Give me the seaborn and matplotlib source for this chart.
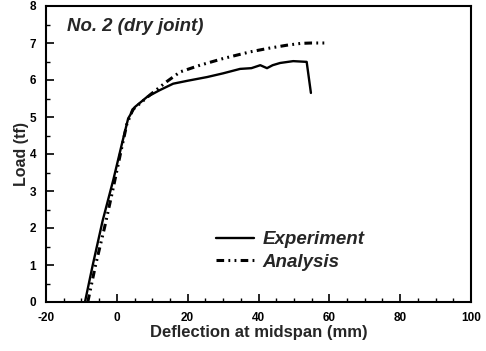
import matplotlib
matplotlib.use("Agg")
import matplotlib.pyplot as plt
import seaborn as sns
import pandas as pd
from matplotlib.ticker import MultipleLocator

sns.set_theme(style="white")
plt.rcParams['font.family'] = ['Liberation Sans', 'DejaVu Sans']
plt.rcParams['axes.unicode_minus'] = False

exp_x = [-9.0, -6.8, -4.0, -1.0, 1.5, 3.2, 5.1, 8.5, 12.0, 15.9, 20.0, 25.5, 30.0, 34.8, 38.0, 40.5, 42.4, 44.0, 46.1, 49.8, 53.6, 54.8]
exp_y = [0.0, 1.0, 2.2, 3.3, 4.3, 4.96, 5.27, 5.54, 5.72, 5.9, 5.98, 6.08, 6.18, 6.3, 6.32, 6.4, 6.32, 6.4, 6.46, 6.51, 6.49, 5.65]

ana_x = [-8.2, -6.0, -3.5, -1.2, 1.0, 2.8, 4.5, 9.4, 14.0, 17.9, 23.5, 30.0, 37.6, 43.0, 48.0, 52.0, 55.0, 59.1]
ana_y = [0.0, 1.0, 2.0, 3.0, 4.0, 4.8, 5.2, 5.6, 5.95, 6.22, 6.4, 6.58, 6.76, 6.86, 6.94, 6.99, 7.0, 7.0]

df_exp = pd.DataFrame({"Deflection": exp_x, "Load": exp_y})
df_ana = pd.DataFrame({"Deflection": ana_x, "Load": ana_y})

fig = plt.figure(figsize=(4.86, 3.51), dpi=100)
ax = fig.add_axes([46/486, 49/351, 425/486, 296/351])

sns.lineplot(data=df_exp, x="Deflection", y="Load", sort=False, estimator=None,
             color="black", lw=1.7, ax=ax, label="Experiment")
sns.lineplot(data=df_ana, x="Deflection", y="Load", sort=False, estimator=None,
             color="black", lw=2.2, ax=ax, label="Analysis",
             linestyle=(0, (2.5, 1.4, 0.6, 1.4, 0.6, 1.4)))

ax.set_xlim(-20, 100)
ax.set_ylim(0, 8)
ax.xaxis.set_major_locator(MultipleLocator(20))
ax.xaxis.set_minor_locator(MultipleLocator(5))
ax.yaxis.set_major_locator(MultipleLocator(1))
ax.yaxis.set_minor_locator(MultipleLocator(0.5))
ax.tick_params(which="major", direction="in", length=6, width=1.2, colors="black",
               labelsize=8.5, bottom=True, left=True)
ax.tick_params(axis="x", which="major", pad=7)
ax.tick_params(axis="y", which="major", pad=7)
ax.tick_params(which="minor", direction="in", length=3, width=1.0, colors="black",
               bottom=True, left=True)
for lab in ax.get_xticklabels() + ax.get_yticklabels():
    lab.set_fontweight("bold")

for s in ax.spines.values():
    s.set_color("black")
    s.set_linewidth(1.5)

ax.set_xlabel("Deflection at midspan (mm)", fontsize=12, fontweight="bold", labelpad=1)
ax.set_ylabel("Load (tf)", fontsize=11.5, fontweight="bold", labelpad=0.5)

ax.text(0.05, 0.93, "No. 2 (dry joint)", transform=ax.transAxes, fontsize=13.4,
        fontweight="bold", fontstyle="italic", va="center", ha="left")

leg = ax.legend(loc="center left", bbox_to_anchor=(216/486, 1 - 251/351),
                bbox_transform=fig.transFigure, frameon=False, borderpad=0,
                borderaxespad=0,
                prop={"weight": "bold", "style": "italic", "size": 13.5},
                handlelength=2.0, handletextpad=0.5, labelspacing=0.3)

fig.savefig("out.png", dpi=100)
